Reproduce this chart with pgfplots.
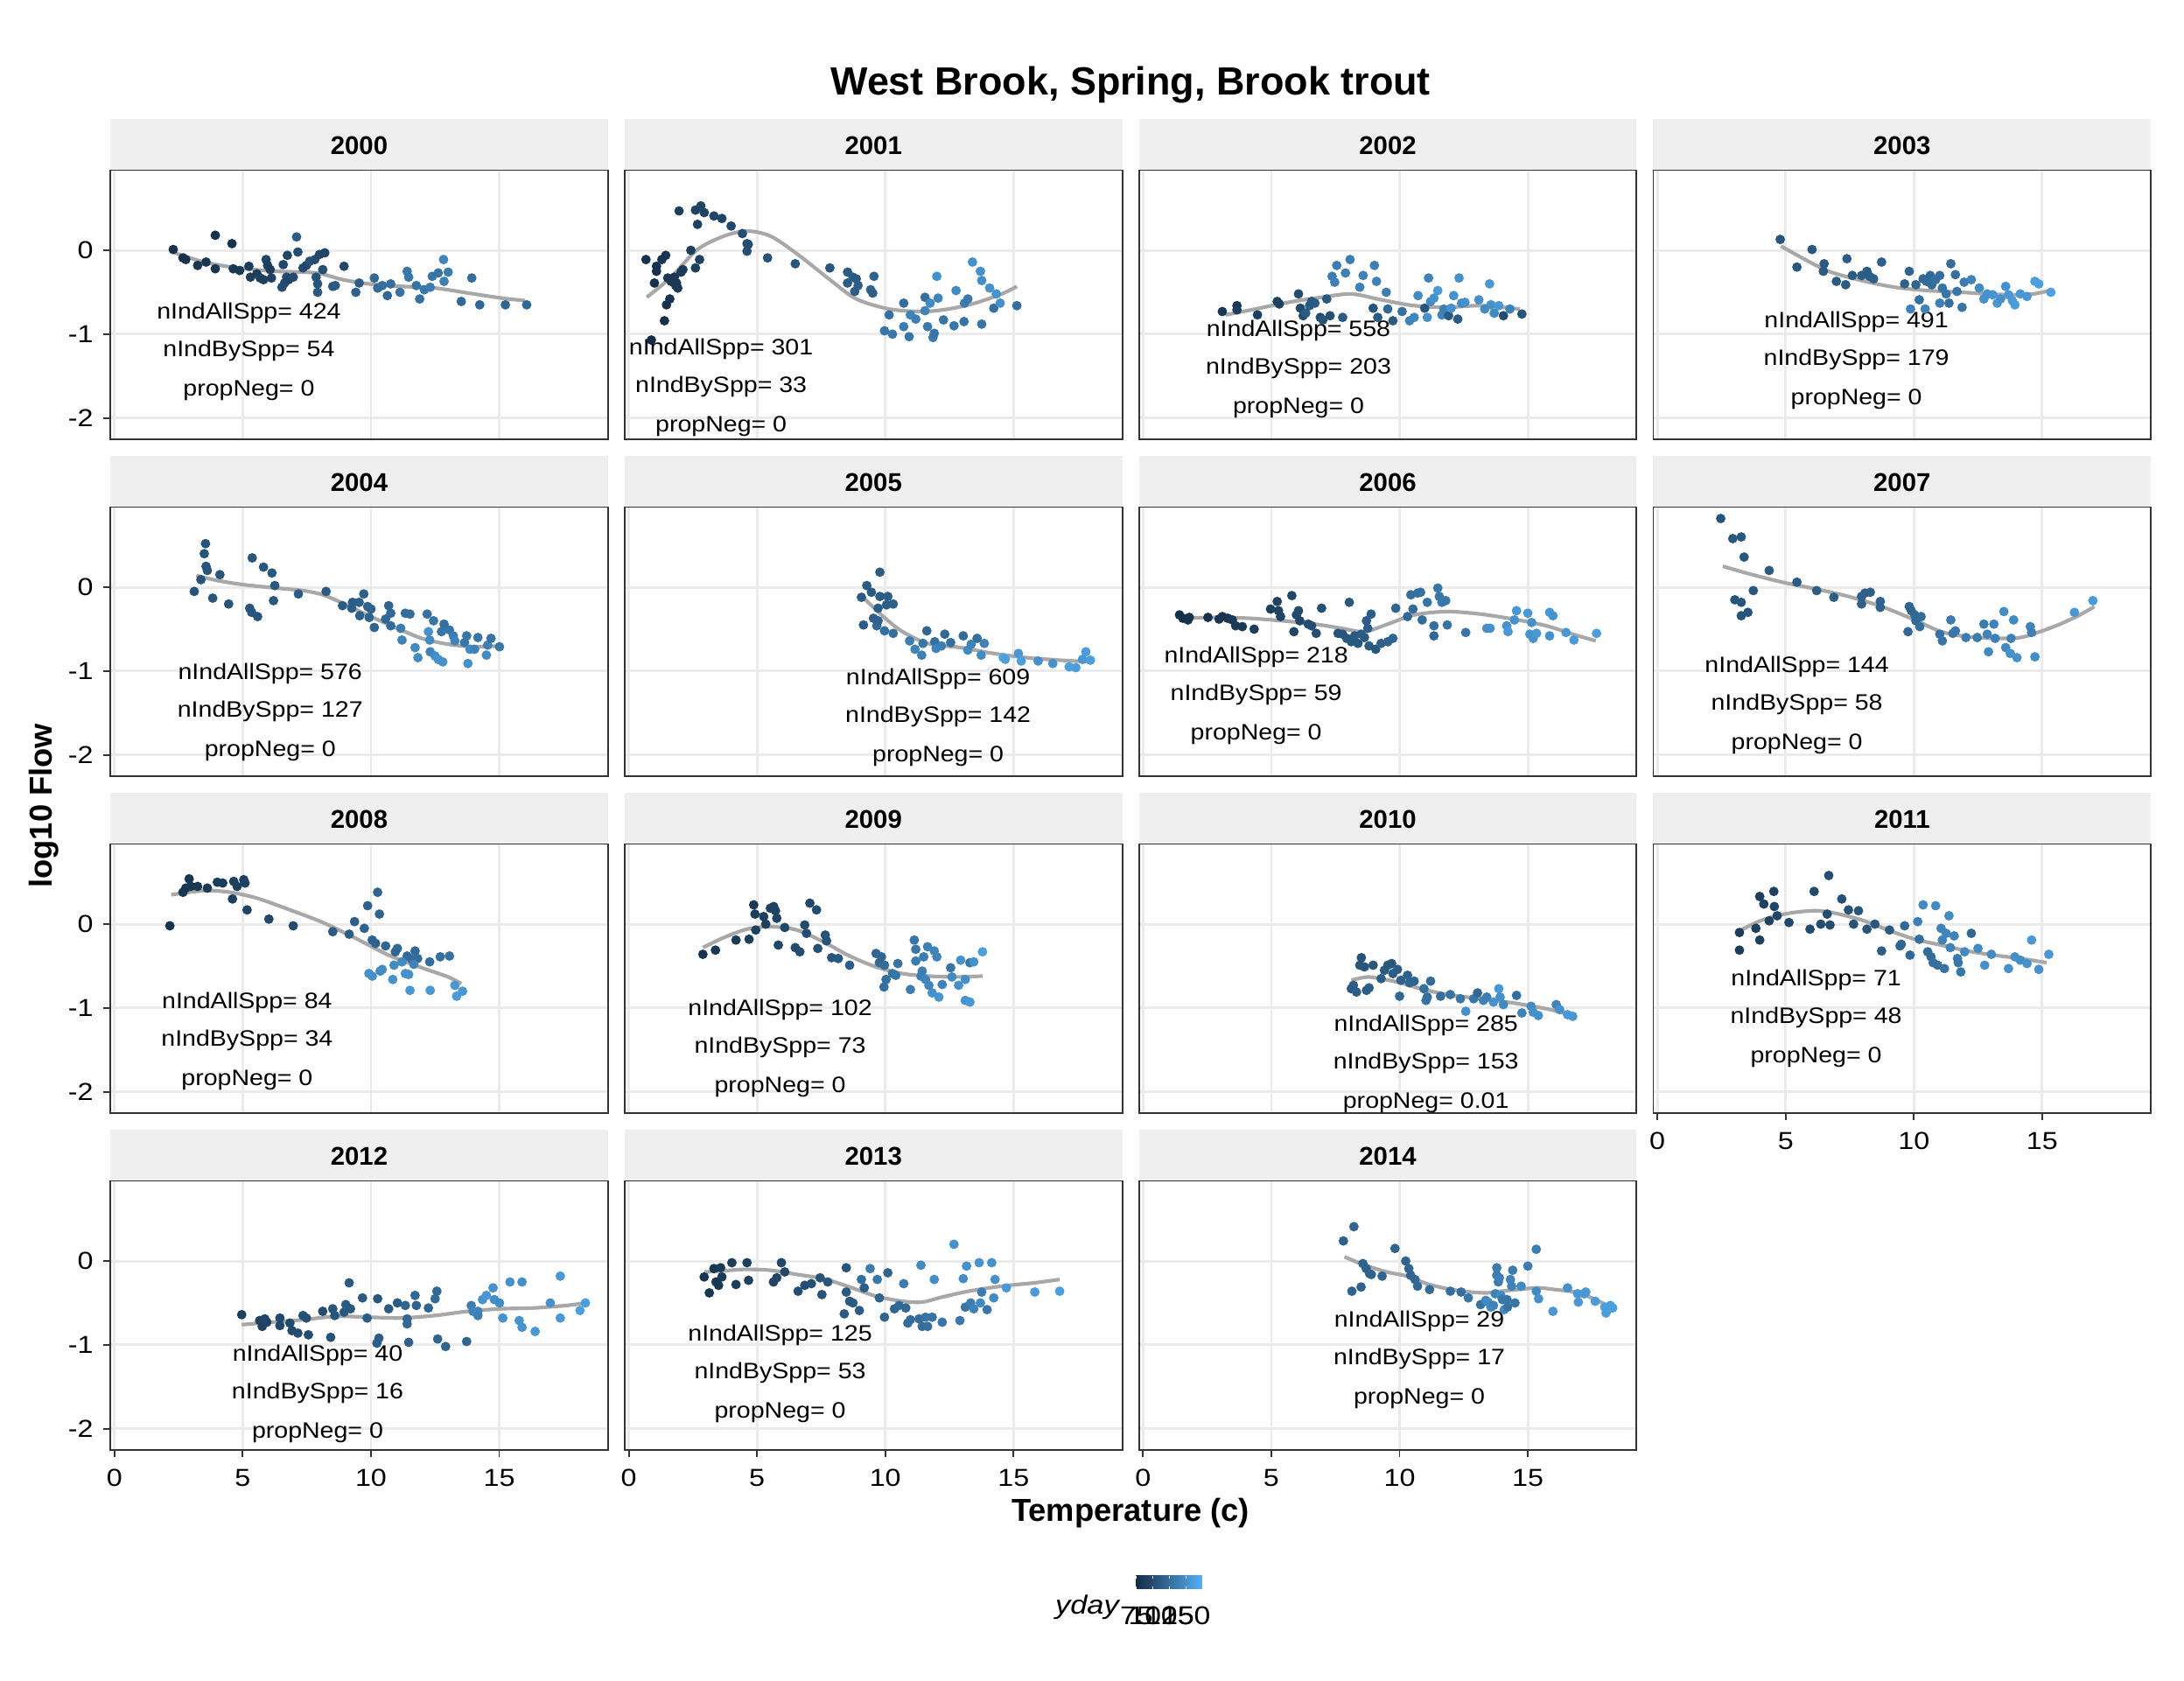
\documentclass[border=0pt]{standalone}
\usepackage{fontspec}
\setmainfont{Liberation Sans}
\newfontfamily\rfont{Liberation Sans}[FakeStretch=1.15]
\newfontfamily\afont{Liberation Sans}[FakeStretch=1.12]
\usepackage{pgfplots}
\pgfplotsset{compat=1.18}
\usepackage{pgfplotstable}

\definecolor{gridc}{HTML}{EBEBEB}
\definecolor{borderc}{HTML}{333333}
\definecolor{stripc}{HTML}{EFEFEF}
\definecolor{loessc}{HTML}{A8A8A8}
\definecolor{lowc}{HTML}{132B43}
\definecolor{highc}{HTML}{56B1F7}

\newcommand\tickfont{\rfont\fontsize{8.8}{9}\selectfont}
\newcommand\annfont{\afont\fontsize{8.0}{8.5}\selectfont}
\newcommand\stripfont{\bfseries\fontsize{9.2}{10}\selectfont}

\pgfplotsset{
 panel/.style={
  anchor=north west, width=178.5pt, height=96.4pt, scale only axis,
  xmin=-0.16, xmax=19.24, ymin=-2.25, ymax=0.956,
  xtick={0,5,10,15}, ytick={-2,-1,0},
  xticklabels={0,5,10,15}, yticklabels={-2,-1,0},
  grid=major, major grid style={draw=gridc, line width=0.9pt},
  axis line style={draw=borderc, line width=0.6pt},
  tick align=outside, tick pos=left, major tick length=2.7pt,
  tick style={draw=borderc, line width=0.6pt},
  xticklabel style={font=\tickfont, inner sep=0pt, anchor=north, yshift=-4.05pt},
  yticklabel style={font=\tickfont, inner sep=0pt, anchor=east, xshift=-3.25pt},
  colormap={yd}{rgb255=(19,43,67) rgb255=(86,177,247)},
  point meta min=74.5, point meta max=175,
 },
 noxl/.style={xticklabels={}, xtick style={draw=none}},
 noyl/.style={yticklabels={}, ytick style={draw=none}},
 pts/.style={scatter, only marks, mark=*, mark size=1.5pt, scatter src=explicit,
   scatter/use mapped color={draw=mapped color, fill=mapped color}},
 lo/.style={no marks, draw=loessc, line width=1.3pt, smooth},
}
\tikzset{ann/.style={font=\annfont, anchor=center, inner sep=0pt, text=black}}

\newcommand\annot[5]{%
 \node[ann] at (axis cs:#1,#2) {nIndAllSpp= #3};
 \node[ann] at (axis cs:#1,#2-0.449) {nIndBySpp= #4};
 \node[ann] at (axis cs:#1,#2-0.923) {propNeg= #5};}
\newcommand\strip[3]{%
 \fill[stripc] ({#1pt},{#2pt+0.2pt}) rectangle ({#1pt+178.5pt},{#2pt+18.45pt});
 \node[font=\stripfont, anchor=base, inner sep=0pt] at ({#1pt+89.25pt},{#2pt+5.5pt}) {#3};}

% ---------------- 2000
\pgfplotstableread{
x y c
2.29 0.01 80
2.67 -0.09 80
2.78 -0.11 80
3.24 -0.18 82
3.57 -0.14 82
3.93 0.18 80
3.93 -0.22 82
4.58 0.08 80
4.63 -0.22 84
4.88 -0.24 84
5.24 -0.19 88
5.30 -0.32 90
5.55 -0.28 88
5.68 -0.33 92
5.81 -0.35 90
5.91 -0.11 95
5.97 -0.18 90
6.07 -0.23 88
6.12 -0.33 92
6.53 -0.44 100
6.63 -0.39 98
6.71 -0.32 100
6.79 -0.35 95
6.97 -0.32 98
6.58 -0.17 96
6.74 -0.06 94
7.10 0.16 112
7.15 -0.02 100
7.35 -0.21 100
7.48 -0.18 96
7.61 -0.13 104
7.81 -0.11 100
7.99 -0.05 96
8.20 -0.03 94
7.86 -0.32 104
7.92 -0.40 106
7.92 -0.50 108
8.12 -0.23 100
8.51 -0.43 108
8.61 -0.42 110
8.95 -0.19 96
9.41 -0.50 115
9.54 -0.39 112
10.13 -0.33 120
10.26 -0.45 122
10.44 -0.42 125
10.64 -0.54 120
10.77 -0.40 125
11.13 -0.50 128
11.41 -0.25 132
11.47 -0.32 130
11.77 -0.42 128
11.90 -0.58 126
12.08 -0.47 132
12.31 -0.44 135
12.39 -0.31 130
12.62 -0.27 128
12.83 -0.11 140
12.85 -0.37 138
13.01 -0.26 135
13.52 -0.61 120
13.93 -0.33 124
14.24 -0.65 120
15.24 -0.65 118
16.07 -0.65 120
}\dA
\pgfplotstableread{
x y
2.34 -0.03
3.5 -0.14
4.78 -0.21
6.32 -0.25
7.87 -0.27
8.9 -0.35
9.92 -0.40
11.2 -0.43
12.5 -0.45
13.8 -0.51
15.1 -0.57
16.0 -0.60
}\lA
% ---------------- 2001
\pgfplotstableread{
x y c
0.67 -0.11 80
0.88 -1.07 76
1.08 -0.19 80
1.00 -0.39 80
1.08 -0.25 80
1.29 -0.11 82
1.44 -0.06 82
1.39 -0.84 78
1.47 -0.65 80
1.60 -0.58 82
1.52 -0.33 84
1.65 -0.37 84
1.78 -0.32 85
1.83 -0.42 84
1.91 -0.45 86
1.86 -0.39 85
2.04 -0.26 86
2.11 -0.23 86
1.96 0.47 90
2.60 0.48 92
2.81 0.53 94
2.94 0.45 92
2.42 0.00 90
2.60 -0.21 90
2.76 -0.11 92
2.68 0.31 92
3.32 0.41 94
3.63 0.38 94
3.99 0.29 96
4.43 0.20 100
4.61 0.08 102
4.66 0.07 100
4.61 -0.01 102
5.41 -0.09 104
6.49 -0.16 106
7.84 -0.21 108
8.53 -0.26 110
8.74 -0.32 112
8.87 -0.34 110
8.53 -0.39 112
8.94 -0.42 114
8.81 -0.49 112
9.43 -0.47 116
9.51 -0.51 114
9.56 -0.31 116
10.15 -0.77 125
9.97 -0.96 130
10.28 -1.00 132
10.72 -0.63 125
10.72 -0.91 135
10.93 -1.03 130
10.98 -0.77 140
11.19 -0.82 138
11.55 -0.56 125
11.55 -0.72 140
11.65 -0.91 132
11.75 -0.63 145
11.86 -1.04 135
11.91 -0.99 130
12.01 -0.31 150
12.06 -0.57 140
12.27 -0.83 130
12.68 -0.90 130
12.76 -0.48 145
13.07 -0.85 128
13.09 -0.63 135
13.22 -0.58 132
13.40 -0.14 150
13.71 -0.25 150
13.76 -0.36 148
13.76 -0.88 130
14.07 -0.45 150
14.23 -0.69 125
14.33 -0.52 152
14.48 -0.63 150
15.13 -0.66 125
}\dB
\pgfplotstableread{
x y
0.7 -0.56
1.65 -0.32
2.68 0.01
3.71 0.17
4.61 0.23
5.52 0.17
6.55 -0.04
7.84 -0.35
8.87 -0.58
10.15 -0.70
11.44 -0.73
12.47 -0.70
13.5 -0.63
14.54 -0.52
15.13 -0.43
}\lB
% ---------------- 2002
\pgfplotstableread{
x y c
3.09 -0.73 85
3.66 -0.66 85
3.66 -0.71 88
4.46 -0.77 90
5.23 -0.61 90
5.31 -0.64 92
6.06 -0.52 100
6.13 -0.69 98
6.24 -0.78 100
6.34 -0.75 110
6.49 -0.66 112
6.57 -0.61 108
6.70 -0.63 110
6.91 -0.80 100
7.01 -0.83 105
7.29 -0.78 102
7.16 -0.58 108
7.37 -0.31 135
7.47 -0.38 138
7.55 -0.18 135
7.78 -0.80 110
7.89 -0.27 138
8.07 -0.11 135
8.45 -0.44 138
8.58 -0.30 140
8.97 -0.69 105
9.02 -0.18 138
9.10 -0.37 140
9.15 -0.80 110
9.48 -0.50 135
9.54 -0.70 120
9.74 -0.84 110
10.10 -0.73 125
10.39 -0.84 140
10.57 -0.80 142
10.72 -0.54 145
10.98 -0.69 105
11.08 -0.80 150
11.13 -0.33 140
11.21 -0.61 145
11.34 -0.57 150
11.49 -0.48 155
11.65 -0.77 140
11.73 -0.70 138
11.91 -0.78 110
12.01 -0.69 150
12.11 -0.54 150
12.27 -0.82 110
12.32 -0.33 150
12.42 -0.63 145
12.55 -0.62 150
13.09 -0.59 150
13.32 -0.70 145
13.51 -0.40 155
13.56 -0.65 150
13.69 -0.75 145
13.87 -0.66 155
14.05 -0.78 100
14.30 -0.70 140
14.77 -0.76 105
}\dC
\pgfplotstableread{
x y
3.22 -0.77
4.38 -0.70
5.67 -0.62
6.96 -0.56
8.12 -0.52
9.28 -0.59
10.57 -0.66
11.86 -0.68
13.14 -0.66
14.69 -0.70
}\lC
% ---------------- 2003
\pgfplotstableread{
x y c
4.79 0.13 105
5.44 -0.20 108
6.03 0.01 108
6.50 -0.16 110
6.47 -0.25 110
6.98 -0.37 110
7.34 -0.41 110
7.39 -0.10 112
7.60 -0.30 110
7.96 -0.30 112
8.17 -0.25 112
8.27 -0.31 112
8.43 -0.34 114
8.74 -0.14 114
9.64 -0.40 116
9.82 -0.25 116
10.08 -0.41 118
10.21 -0.59 125
10.36 -0.34 120
10.49 -0.37 122
10.64 -0.30 120
10.70 -0.41 124
10.85 -0.35 126
11.01 -0.30 124
11.11 -0.45 128
11.26 -0.52 130
11.37 -0.63 126
11.44 -0.16 122
11.62 -0.29 125
11.68 -0.49 130
11.88 -0.68 130
11.96 -0.38 135
12.24 -0.35 140
9.87 -0.70 140
10.44 -0.70 140
11.01 -0.63 138
12.55 -0.45 145
12.73 -0.58 150
12.86 -0.52 150
13.07 -0.53 152
13.25 -0.63 155
13.38 -0.58 150
13.58 -0.43 150
13.69 -0.53 155
13.84 -0.60 158
13.94 -0.65 158
14.15 -0.52 155
14.41 -0.55 155
14.72 -0.37 160
14.87 -0.40 160
15.34 -0.50 162
}\dD
\pgfplotstableread{
x y
4.82 0.05
5.64 -0.09
6.68 -0.25
7.96 -0.36
9.25 -0.44
10.54 -0.48
11.83 -0.50
12.86 -0.52
13.89 -0.53
14.66 -0.52
15.31 -0.48
}\lD
% ---------------- 2004
\pgfplotstableread{
x y c
3.11 -0.05 105
3.37 0.09 105
3.55 0.52 105
3.50 0.40 105
3.57 0.25 106
3.62 0.20 106
4.11 0.15 106
3.83 -0.13 106
4.45 -0.20 106
5.37 0.35 106
5.81 0.24 108
6.14 0.17 108
6.25 0.02 108
5.27 -0.25 106
5.35 -0.30 106
5.58 -0.35 106
6.20 -0.16 108
7.17 -0.08 110
8.25 -0.05 110
8.89 -0.22 112
9.28 -0.18 112
9.25 -0.25 112
9.54 -0.18 114
9.56 -0.34 114
9.72 -0.08 114
9.87 -0.23 116
9.93 -0.36 116
10.00 -0.26 116
10.13 -0.48 118
10.57 -0.38 120
10.69 -0.22 118
10.77 -0.31 120
10.77 -0.46 122
11.16 -0.49 135
11.21 -0.63 140
11.34 -0.31 122
11.52 -0.32 124
11.72 -0.72 145
11.83 -0.84 145
12.19 -0.32 126
12.24 -0.53 150
12.29 -0.63 145
12.31 -0.77 140
12.44 -0.40 130
12.50 -0.82 148
12.62 -0.86 150
12.75 -0.53 128
12.80 -0.89 150
12.85 -0.44 126
13.06 -0.51 130
13.21 -0.58 135
13.27 -0.64 140
13.65 -0.66 130
13.73 -0.58 130
13.78 -0.91 150
13.86 -0.74 145
14.04 -0.74 140
14.17 -0.60 130
14.50 -0.81 145
14.55 -0.69 138
14.68 -0.61 128
15.01 -0.71 130
}\dE
\pgfplotstableread{
x y
3.19 0.14
4.01 0.08
5.04 0.03
6.32 -0.01
7.35 -0.04
8.12 -0.09
8.89 -0.19
9.92 -0.34
10.95 -0.48
11.98 -0.61
13.01 -0.68
14.04 -0.71
15.01 -0.70
}\lE
% ---------------- 2005
\pgfplotstableread{
x y c
9.79 0.18 112
9.28 0.02 110
9.46 -0.06 110
9.07 -0.12 110
9.79 -0.11 112
10.10 -0.11 112
10.05 -0.21 112
10.31 -0.20 114
9.72 -0.25 112
9.54 -0.37 114
9.15 -0.45 112
9.67 -0.46 120
9.97 -0.52 125
10.31 -0.55 125
9.72 -0.40 115
10.95 -0.64 135
11.16 -0.74 140
11.42 -0.81 138
11.47 -0.67 130
11.62 -0.52 118
11.93 -0.65 125
11.98 -0.73 140
12.32 -0.56 120
12.19 -0.70 138
12.55 -0.66 125
13.04 -0.58 122
13.22 -0.75 145
13.35 -0.68 140
13.58 -0.61 125
13.74 -0.81 145
13.86 -0.67 140
14.60 -0.84 165
14.68 -0.86 160
15.19 -0.79 155
15.30 -0.88 160
15.96 -0.88 150
16.53 -0.91 150
17.17 -0.95 160
17.43 -0.96 160
17.69 -0.86 155
17.82 -0.77 158
18.00 -0.87 160
}\dF
\pgfplotstableread{
x y
9.2 -0.14
9.85 -0.33
10.62 -0.52
11.65 -0.67
12.94 -0.72
14.22 -0.79
15.5 -0.84
16.79 -0.87
18.0 -0.89
}\lF
% ---------------- 2006
\pgfplotstableread{
x y c
1.42 -0.33 78
1.55 -0.37 78
1.75 -0.39 80
1.80 -0.36 80
2.53 -0.36 80
2.96 -0.38 82
3.09 -0.35 82
3.30 -0.37 82
3.48 -0.39 84
3.61 -0.46 86
3.87 -0.47 86
4.33 -0.50 88
4.97 -0.26 90
5.23 -0.17 92
5.28 -0.28 92
5.36 -0.35 94
5.80 -0.10 95
5.88 -0.53 94
5.98 -0.33 96
6.11 -0.40 96
6.06 -0.28 98
6.44 -0.44 100
6.57 -0.46 100
6.75 -0.55 100
6.96 -0.25 102
7.60 -0.55 104
7.78 -0.56 106
7.94 -0.61 106
8.04 -0.18 108
8.12 -0.65 108
8.25 -0.58 110
8.38 -0.67 108
8.51 -0.56 112
8.63 -0.60 110
8.71 -0.40 112
8.76 -0.49 112
8.89 -0.32 112
8.81 -0.70 110
9.07 -0.74 108
9.28 -0.67 114
9.54 -0.65 116
9.74 -0.61 118
9.85 -0.25 118
10.31 -0.35 120
10.44 -0.09 125
10.52 -0.26 122
10.70 -0.07 126
10.82 -0.06 126
10.88 -0.39 124
11.08 -0.18 128
11.34 -0.46 125
11.34 -0.58 120
11.49 -0.01 130
11.55 -0.11 130
11.65 -0.18 132
11.80 -0.16 132
11.86 -0.45 128
12.58 -0.54 130
13.40 -0.49 150
13.53 -0.49 150
14.18 -0.46 150
14.23 -0.53 155
14.56 -0.28 155
14.48 -0.39 150
15.00 -0.31 155
15.15 -0.42 150
15.08 -0.56 150
15.21 -0.61 152
15.34 -0.55 155
15.85 -0.58 150
15.85 -0.30 155
15.98 -0.34 152
16.49 -0.54 155
16.80 -0.63 158
17.68 -0.55 160
}\dG
\pgfplotstableread{
x y
1.55 -0.37
2.84 -0.36
4.12 -0.37
5.41 -0.40
6.7 -0.44
7.73 -0.49
8.63 -0.53
9.54 -0.44
10.57 -0.33
11.86 -0.29
13.14 -0.32
14.43 -0.38
15.72 -0.46
16.75 -0.56
17.65 -0.64
}\lG
% ---------------- 2007
\pgfplotstableread{
x y c
2.47 0.82 105
2.94 0.58 108
3.27 0.60 108
3.38 0.36 108
3.74 -0.04 108
3.02 -0.15 105
3.27 -0.18 106
3.27 -0.34 106
3.53 -0.30 106
4.36 0.20 110
5.44 0.06 110
6.21 -0.04 112
6.88 -0.12 112
7.96 -0.11 114
8.09 -0.07 114
8.30 -0.06 114
7.96 -0.20 114
8.69 -0.17 116
8.69 -0.24 116
9.82 -0.23 118
9.90 -0.28 118
10.03 -0.33 120
10.08 -0.40 120
10.28 -0.35 122
9.77 -0.53 120
10.23 -0.47 125
11.01 -0.56 128
11.11 -0.64 130
11.44 -0.39 135
11.62 -0.52 132
11.52 -0.55 130
12.03 -0.60 135
12.47 -0.60 135
12.73 -0.44 135
12.86 -0.56 140
12.91 -0.77 145
13.12 -0.44 140
13.17 -0.61 138
13.51 -0.29 148
13.58 -0.72 145
13.76 -0.79 150
13.79 -0.61 138
13.89 -0.39 145
14.02 -0.84 150
14.54 -0.47 140
14.59 -0.54 138
14.72 -0.83 148
16.26 -0.30 155
16.98 -0.16 158
}\dH
\pgfplotstableread{
x y
2.55 0.25
3.58 0.16
4.87 0.06
6.16 -0.02
7.45 -0.11
8.74 -0.23
10.03 -0.39
11.06 -0.53
12.09 -0.59
13.12 -0.61
14.15 -0.60
14.92 -0.53
15.7 -0.44
16.47 -0.33
17.04 -0.23
}\lH
% ---------------- 2008
\pgfplotstableread{
x y c
2.16 -0.02 80
2.67 0.38 82
2.78 0.43 82
2.91 0.54 82
2.98 0.45 84
3.24 0.45 84
3.62 0.43 86
4.01 0.50 88
4.22 0.49 88
4.65 0.51 90
4.78 0.45 90
5.04 0.53 92
5.09 0.49 92
4.60 0.30 90
5.17 0.17 94
6.02 0.06 96
6.97 -0.02 100
8.51 -0.09 110
9.15 -0.12 112
9.36 0.03 114
9.74 -0.05 115
9.87 0.22 116
10.26 0.38 118
10.33 0.12 118
10.05 -0.19 115
10.18 -0.23 116
10.57 -0.26 118
11.03 -0.29 120
10.95 -0.33 118
11.41 -0.38 122
11.72 -0.32 120
11.59 -0.42 124
11.82 -0.41 122
12.29 -0.45 124
12.70 -0.39 126
13.06 -0.38 128
9.92 -0.59 150
10.05 -0.62 150
10.36 -0.56 145
10.44 -0.54 148
10.85 -0.66 150
10.90 -0.49 145
11.21 -0.45 145
11.34 -0.59 150
11.47 -0.60 150
11.52 -0.79 155
11.67 -0.48 140
12.31 -0.79 155
13.27 -0.73 155
13.34 -0.86 158
13.57 -0.80 155
}\dI
\pgfplotstableread{
x y
2.21 0.35
3.5 0.40
4.52 0.38
5.55 0.31
6.84 0.17
8.12 0.02
9.41 -0.17
10.69 -0.37
11.98 -0.52
13.01 -0.63
13.52 -0.71
}\lI
% ---------------- 2009
\pgfplotstableread{
x y c
2.89 -0.36 82
3.38 -0.31 84
4.18 -0.19 86
4.69 -0.18 88
4.87 0.23 86
4.92 0.12 88
4.95 -0.07 90
5.26 0.09 90
5.34 0.00 90
5.52 0.19 92
5.65 0.21 92
5.72 0.16 92
5.77 0.07 92
5.83 -0.25 95
6.08 -0.04 95
6.49 -0.28 98
6.67 -0.33 100
6.86 -0.01 98
6.93 -0.11 100
7.06 0.25 96
7.32 0.17 100
7.37 -0.29 102
7.66 -0.13 104
7.71 -0.20 104
7.91 -0.40 106
8.17 -0.41 108
8.61 -0.49 112
9.64 -0.35 118
9.77 -0.46 120
9.85 -0.39 118
9.97 -0.49 122
10.03 -0.66 125
9.95 -0.75 125
10.28 -0.59 128
10.41 -0.61 130
10.49 -0.47 128
10.98 -0.78 135
11.13 -0.19 130
11.19 -0.30 132
11.19 -0.44 135
11.39 -0.62 138
11.44 -0.56 136
11.50 -0.39 135
11.57 -0.66 140
11.65 -0.27 138
11.70 -0.73 142
11.83 -0.82 150
11.91 -0.32 140
12.01 -0.39 140
12.09 -0.87 152
12.22 -0.72 140
12.55 -0.52 130
12.60 -0.63 145
12.86 -0.73 150
12.94 -0.43 150
13.12 -0.66 148
13.12 -0.91 152
13.30 -0.46 130
13.30 -0.93 155
13.45 -0.45 150
13.79 -0.33 160
}\dJ
\pgfplotstableread{
x y
2.89 -0.28
3.71 -0.16
4.61 -0.06
5.52 -0.03
6.55 -0.07
7.58 -0.21
8.61 -0.38
9.64 -0.51
10.67 -0.59
11.7 -0.62
12.73 -0.63
13.79 -0.62
}\lJ
% ---------------- 2010
\pgfplotstableread{
x y c
8.12 -0.77 110
8.20 -0.73 112
8.32 -0.81 112
8.45 -0.49 106
8.51 -0.40 104
8.71 -0.79 112
8.81 -0.76 112
8.63 -0.51 106
8.97 -0.49 108
9.28 -0.65 112
9.41 -0.55 110
9.54 -0.49 108
9.69 -0.47 108
9.74 -0.59 112
9.92 -0.54 112
10.00 -0.86 120
10.05 -0.67 115
10.31 -0.61 115
10.39 -0.70 118
10.57 -0.68 118
10.95 -0.77 125
11.03 -0.91 128
11.08 -0.87 125
11.21 -0.68 122
11.60 -0.86 125
11.98 -0.84 128
12.37 -0.89 130
12.58 -1.04 150
12.89 -0.89 130
13.04 -0.82 120
13.27 -0.91 140
13.40 -0.87 135
13.66 -0.93 150
13.87 -0.77 155
13.92 -0.87 150
14.05 -0.96 145
14.56 -0.85 125
14.77 -1.06 140
15.13 -0.98 145
15.21 -1.05 150
15.41 -1.09 150
16.11 -0.96 140
16.24 -1.02 150
16.55 -1.08 155
16.75 -1.10 155
}\dK
\pgfplotstableread{
x y
8.12 -0.67
8.76 -0.63
9.41 -0.66
10.05 -0.70
10.82 -0.77
11.86 -0.84
13.14 -0.89
14.43 -0.94
15.72 -1.01
16.75 -1.08
}\lK
% ---------------- 2011
\pgfplotstableread{
x y c
3.20 -0.31 88
3.20 -0.10 88
3.84 -0.05 90
3.99 -0.19 90
3.99 0.33 90
4.15 0.24 92
4.36 0.04 92
4.54 0.39 92
4.56 0.21 94
4.67 0.10 94
5.13 0.02 96
5.95 -0.06 98
6.11 0.39 98
6.37 0.00 100
6.68 0.58 100
6.73 -0.01 100
6.62 0.12 100
7.19 0.30 102
7.45 0.17 104
7.65 0.00 104
7.84 0.16 106
8.17 -0.06 106
8.48 0.00 108
8.74 -0.32 112
9.05 -0.07 110
9.46 -0.26 118
9.51 -0.24 118
9.64 -0.02 120
9.85 -0.37 120
10.15 0.03 138
10.21 -0.18 125
10.36 0.23 145
10.54 -0.33 122
10.67 -0.39 124
10.75 -0.46 126
10.85 0.22 145
10.93 -0.49 126
11.06 -0.05 140
11.11 -0.19 140
11.19 -0.53 128
11.26 -0.11 142
11.37 0.10 145
11.42 -0.28 140
11.57 -0.14 140
11.70 -0.41 135
11.73 -0.46 130
11.83 -0.57 130
11.98 -0.33 145
12.24 -0.11 120
12.50 -0.29 145
12.76 -0.49 150
13.02 -0.36 145
13.69 -0.53 150
13.94 -0.39 150
14.15 -0.43 148
14.41 -0.47 152
14.59 -0.19 155
14.87 -0.54 150
15.26 -0.36 155
}\dL
\pgfplotstableread{
x y
3.2 -0.08
4.1 0.05
5.13 0.13
6.16 0.16
6.93 0.13
7.96 0.05
8.99 -0.07
10.03 -0.18
11.06 -0.25
12.09 -0.32
13.12 -0.37
14.15 -0.41
15.18 -0.46
}\lL
% ---------------- 2012
\pgfplotstableread{
x y c
4.96 -0.64 90
5.66 -0.71 92
5.76 -0.78 92
5.86 -0.69 94
5.94 -0.73 94
6.45 -0.68 96
6.45 -0.77 96
6.84 -0.74 98
6.92 -0.83 98
7.15 -0.86 100
7.35 -0.65 102
7.48 -0.68 102
7.56 -0.88 100
8.12 -0.60 100
8.43 -0.91 104
8.51 -0.57 106
8.59 -0.65 106
8.95 -0.61 108
9.02 -0.52 110
9.15 -0.26 110
9.20 -0.57 108
9.67 -0.44 110
9.85 -0.68 112
10.26 -0.45 108
10.23 -0.98 112
10.31 -0.92 112
10.69 -0.57 110
11.03 -0.50 112
11.34 -0.53 118
11.41 -0.69 120
11.41 -0.75 120
11.47 -0.97 114
11.72 -0.41 120
11.77 -0.53 116
12.24 -0.56 118
12.50 -0.45 122
12.57 -0.36 120
12.60 -0.93 118
12.91 -1.02 118
13.73 -0.96 118
13.91 -0.53 135
13.98 -0.60 140
14.17 -0.60 140
14.17 -0.65 138
14.35 -0.46 150
14.50 -0.41 155
14.76 -0.32 150
14.81 -0.46 148
15.01 -0.50 145
15.14 -0.68 150
15.42 -0.25 150
15.78 -0.71 152
15.89 -0.25 150
15.89 -0.79 152
16.40 -0.84 155
16.99 -0.50 150
17.38 -0.18 155
17.38 -0.68 155
18.15 -0.59 160
18.36 -0.50 160
}\dM
\pgfplotstableread{
x y
4.96 -0.76
6.07 -0.73
7.35 -0.70
8.64 -0.66
9.92 -0.67
11.21 -0.68
12.49 -0.65
13.78 -0.60
15.06 -0.57
16.35 -0.56
17.63 -0.53
18.35 -0.50
}\lM
% ---------------- 2013
\pgfplotstableread{
x y c
2.94 -0.19 82
3.14 -0.38 82
3.32 -0.09 84
3.40 -0.25 84
3.50 -0.29 84
3.58 -0.08 86
3.63 -0.19 86
4.02 -0.02 88
4.18 -0.28 88
4.61 -0.02 90
4.67 -0.23 90
5.64 -0.25 94
5.77 -0.20 94
5.95 -0.02 95
6.08 -0.13 96
6.60 -0.36 100
6.86 -0.29 100
7.12 -0.27 102
7.46 -0.20 104
7.53 -0.40 104
7.76 -0.25 106
8.40 -0.63 110
8.48 -0.08 106
8.48 -0.37 108
8.61 -0.48 110
8.74 -0.50 110
8.99 -0.59 112
9.07 -0.22 125
9.18 -0.32 112
9.41 -0.09 135
9.69 -0.22 130
9.77 -0.44 116
9.97 -0.67 118
10.10 -0.14 118
10.36 -0.57 118
10.54 -0.53 120
10.72 -0.27 135
10.80 -0.56 120
10.88 -0.74 122
10.98 -0.70 124
11.39 -0.05 145
11.32 -0.69 124
11.44 -0.78 125
11.57 -0.67 128
11.65 -0.78 125
11.83 -0.67 128
11.91 -0.22 148
12.22 -0.73 130
12.68 0.20 150
12.91 -0.71 132
13.04 -0.21 148
13.12 -0.55 130
13.17 -0.06 150
13.33 -0.50 135
13.45 -0.57 140
13.66 -0.02 152
13.71 -0.50 145
13.76 -0.37 135
13.97 -0.58 130
14.15 -0.02 150
14.23 -0.44 145
14.28 -0.22 150
14.72 -0.32 155
15.83 -0.37 158
16.80 -0.36 160
}\dN
\pgfplotstableread{
x y
2.94 -0.13
3.58 -0.12
4.48 -0.10
5.52 -0.11
6.55 -0.16
7.58 -0.21
8.61 -0.31
9.64 -0.42
10.67 -0.48
11.44 -0.49
12.22 -0.43
13.25 -0.36
14.54 -0.30
15.82 -0.26
16.8 -0.22
}\lN
% ---------------- 2014
\pgfplotstableread{
x y c
7.81 0.24 115
8.22 0.41 118
9.82 0.15 118
10.24 0.00 118
10.36 -0.09 118
10.43 -0.17 118
10.60 -0.22 120
10.70 -0.30 120
11.17 -0.34 122
11.98 -0.36 125
12.40 -0.37 125
12.68 -0.44 130
8.14 -0.36 116
8.50 -0.31 116
8.57 -0.03 116
8.70 -0.09 116
8.83 -0.15 116
8.90 -0.16 116
9.32 -0.18 118
13.16 -0.52 128
13.36 -0.47 140
13.45 -0.49 145
13.56 -0.55 145
13.66 -0.53 140
13.73 -0.39 140
13.79 -0.08 135
13.79 -0.17 135
13.85 -0.25 135
13.89 -0.20 138
13.95 -0.41 145
14.01 -0.46 130
14.08 -0.58 145
14.19 -0.46 130
14.21 -0.55 128
14.32 -0.22 140
14.37 -0.30 140
14.41 -0.11 135
14.50 -0.50 130
14.74 -0.30 145
15.00 -0.06 135
15.33 0.14 135
15.33 -0.36 145
15.42 -0.45 150
15.98 -0.60 155
16.55 -0.32 150
16.94 -0.39 155
16.97 -0.49 155
17.20 -0.39 155
17.26 -0.37 155
17.63 -0.48 158
18.00 -0.55 160
18.05 -0.62 160
18.13 -0.57 160
18.22 -0.53 160
18.31 -0.56 160
}\dO
\pgfplotstableread{
x y
7.85 0.05
8.57 -0.04
9.49 -0.13
10.28 -0.18
11.06 -0.27
11.85 -0.33
12.77 -0.37
13.43 -0.38
13.95 -0.36
14.61 -0.34
15.39 -0.32
16.05 -0.34
16.84 -0.37
17.49 -0.44
18.31 -0.56
}\lO

\begin{document}
\begin{tikzpicture}
\path[use as bounding box] (0,0) rectangle (783.5pt,-602.7pt);

% Row 1
\begin{axis}[panel, noxl, at={(39.6pt,-61.05pt)}]
\addplot[lo] table[x=x,y=y] {\lA};
\addplot[pts] table[x=x,y=y,meta=c] {\dA};
\annot{5.24}{-0.75}{424}{54}{0}
\end{axis}
\strip{39.6}{-61.05}{2000}
\begin{axis}[panel, noxl, noyl, at={(224.1pt,-61.05pt)}]
\addplot[lo] table[x=x,y=y] {\lB};
\addplot[pts] table[x=x,y=y,meta=c] {\dB};
\annot{3.6}{-1.18}{301}{33}{0}
\end{axis}
\strip{224.1}{-61.05}{2001}
\begin{axis}[panel, noxl, noyl, at={(408.6pt,-61.05pt)}]
\addplot[lo] table[x=x,y=y] {\lC};
\addplot[pts] table[x=x,y=y,meta=c] {\dC};
\annot{6.06}{-0.96}{558}{203}{0}
\end{axis}
\strip{408.6}{-61.05}{2002}
\begin{axis}[panel, noxl, noyl, at={(593.1pt,-61.05pt)}]
\addplot[lo] table[x=x,y=y] {\lD};
\addplot[pts] table[x=x,y=y,meta=c] {\dD};
\annot{7.76}{-0.85}{491}{179}{0}
\end{axis}
\strip{593.1}{-61.05}{2003}

% Row 2
\begin{axis}[panel, noxl, at={(39.6pt,-181.9pt)}]
\addplot[lo] table[x=x,y=y] {\lE};
\addplot[pts] table[x=x,y=y,meta=c] {\dE};
\annot{6.07}{-1.035}{576}{127}{0}
\end{axis}
\strip{39.6}{-181.9}{2004}
\begin{axis}[panel, noxl, noyl, at={(224.1pt,-181.9pt)}]
\addplot[lo] table[x=x,y=y] {\lF};
\addplot[pts] table[x=x,y=y,meta=c] {\dF};
\annot{12.06}{-1.09}{609}{142}{0}
\end{axis}
\strip{224.1}{-181.9}{2005}
\begin{axis}[panel, noxl, noyl, at={(408.6pt,-181.9pt)}]
\addplot[lo] table[x=x,y=y] {\lG};
\addplot[pts] table[x=x,y=y,meta=c] {\dG};
\annot{4.41}{-0.835}{218}{59}{0}
\end{axis}
\strip{408.6}{-181.9}{2006}
\begin{axis}[panel, noxl, noyl, at={(593.1pt,-181.9pt)}]
\addplot[lo] table[x=x,y=y] {\lH};
\addplot[pts] table[x=x,y=y,meta=c] {\dH};
\annot{5.44}{-0.95}{144}{58}{0}
\end{axis}
\strip{593.1}{-181.9}{2007}

% Row 3
\begin{axis}[panel, noxl, at={(39.6pt,-302.75pt)}]
\addplot[lo] table[x=x,y=y] {\lI};
\addplot[pts] table[x=x,y=y,meta=c] {\dI};
\annot{5.17}{-0.94}{84}{34}{0}
\end{axis}
\strip{39.6}{-302.75}{2008}
\begin{axis}[panel, noxl, noyl, at={(224.1pt,-302.75pt)}]
\addplot[lo] table[x=x,y=y] {\lJ};
\addplot[pts] table[x=x,y=y,meta=c] {\dJ};
\annot{5.9}{-1.02}{102}{73}{0}
\end{axis}
\strip{224.1}{-302.75}{2009}
\begin{axis}[panel, noxl, noyl, at={(408.6pt,-302.75pt)}]
\addplot[lo] table[x=x,y=y] {\lK};
\addplot[pts] table[x=x,y=y,meta=c] {\dK};
\annot{11.03}{-1.21}{285}{153}{0.01}
\end{axis}
\strip{408.6}{-302.75}{2010}
\begin{axis}[panel, noyl, at={(593.1pt,-302.75pt)}]
\addplot[lo] table[x=x,y=y] {\lL};
\addplot[pts] table[x=x,y=y,meta=c] {\dL};
\annot{6.19}{-0.67}{71}{48}{0}
\end{axis}
\strip{593.1}{-302.75}{2011}

% Row 4
\begin{axis}[panel, at={(39.6pt,-423.6pt)}]
\addplot[lo] table[x=x,y=y] {\lM};
\addplot[pts] table[x=x,y=y,meta=c] {\dM};
\annot{7.92}{-1.13}{40}{16}{0}
\end{axis}
\strip{39.6}{-423.6}{2012}
\begin{axis}[panel, noyl, at={(224.1pt,-423.6pt)}]
\addplot[lo] table[x=x,y=y] {\lN};
\addplot[pts] table[x=x,y=y,meta=c] {\dN};
\annot{5.9}{-0.89}{125}{53}{0}
\end{axis}
\strip{224.1}{-423.6}{2013}
\begin{axis}[panel, noyl, at={(408.6pt,-423.6pt)}]
\addplot[lo] table[x=x,y=y] {\lO};
\addplot[pts] table[x=x,y=y,meta=c] {\dO};
\annot{10.77}{-0.72}{29}{17}{0}
\end{axis}
\strip{408.6}{-423.6}{2014}

% Titles
\node[font=\bfseries\fontsize{14.1}{16}\selectfont, anchor=base, inner sep=0pt] at (405.6pt,-34pt) {West Brook, Spring, Brook trout};
\node[font=\bfseries\fontsize{11.4}{13}\selectfont, anchor=base, inner sep=0pt] at (405.6pt,-545.85pt) {Temperature (c)};
\node[font=\bfseries\fontsize{11.4}{13}\selectfont, anchor=base, inner sep=0pt, rotate=90] at (18.55pt,-289pt) {log10 Flow};

% Legend
\node[font=\rfont\itshape\fontsize{9.4}{10}\selectfont, anchor=base, inner sep=0pt] at (390pt,-579pt) {yday};
\shade[left color=lowc, right color=highc] (407.5pt,-565.2pt) rectangle (431.25pt,-570pt);
\foreach \x in {407.7,413.6,419.5,425.45} {
  \draw[white, line width=0.35pt] (\x pt,-565.2pt) -- ++(0,-1pt);
  \draw[white, line width=0.35pt] (\x pt,-570pt) -- ++(0,1pt);
}
\foreach \x/\l in {407.7/75,413.6/100,419.5/125,425.45/150}
  \node[font=\rfont\fontsize{9.2}{10}\selectfont, anchor=base, inner sep=0pt] at (\x pt,-582.7pt) {\l};
\end{tikzpicture}
\end{document}
